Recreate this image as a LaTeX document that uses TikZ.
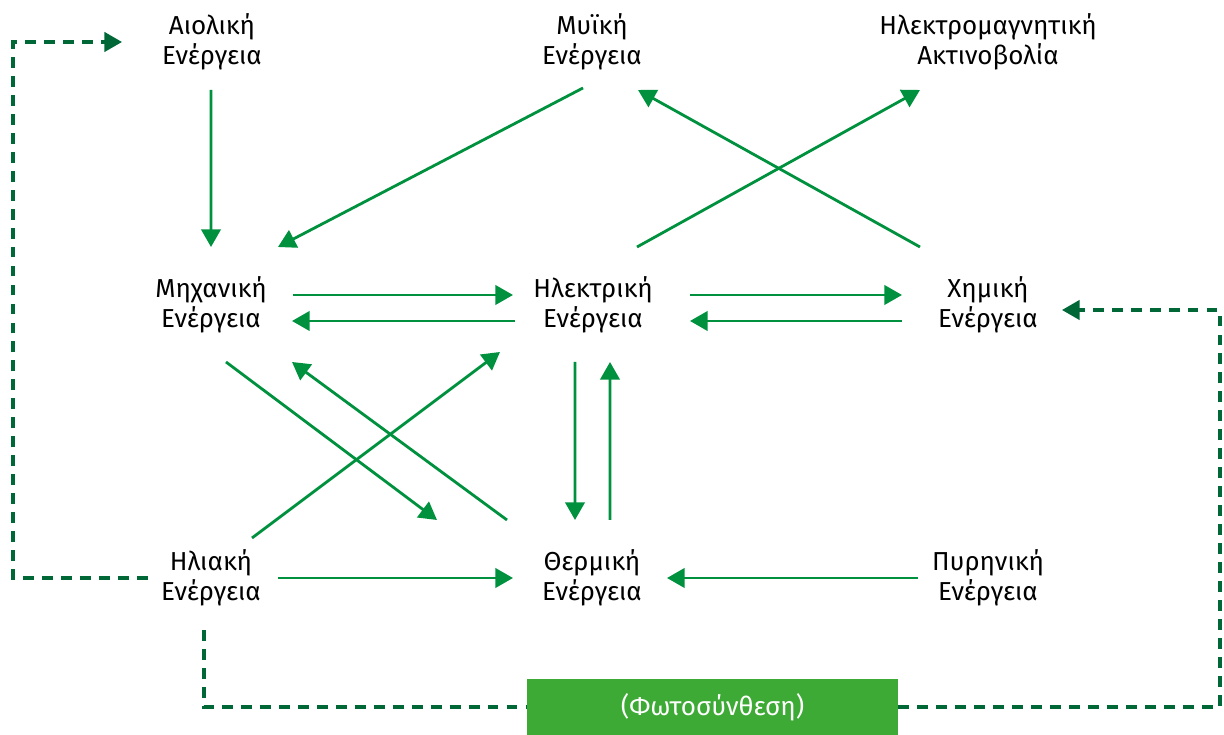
\documentclass[tikz,border=0pt]{standalone}
\usepackage{fontspec}
\setmainfont{Fira Sans}
\usetikzlibrary{arrows.meta}
\definecolor{flowgreen}{RGB}{0,145,62}
\definecolor{darkgreen}{RGB}{0,104,55}
\definecolor{boxgreen}{RGB}{61,170,53}

\begin{document}
\begin{tikzpicture}[every node/.style={font=\fontsize{14.8}{17}\selectfont}]
  \tikzset{
    energy/.style={align=center, inner sep=0pt},
    flow/.style={draw=flowgreen, line width=1.6pt, -{Triangle[length=10pt,width=11pt]}},
    dflow/.style={draw=darkgreen, line width=1.8pt, dash pattern=on 6.2pt off 4.6pt, -{Triangle[length=10pt,width=11pt]}}
  }
  \useasboundingbox (0,0) rectangle (24.48,14.7);

  % Top row
  \node[energy] (wind) at (4.24, 13.86) {Αιολική\\Ενέργεια};
  \node[energy] (musc) at (11.84, 13.86) {Μυϊκή\\Ενέργεια};
  \node[energy] (emr)  at (19.76, 13.86) {Ηλεκτρομαγνητική\\Ακτινοβολία};

  % Middle row
  \node[energy] (mech) at (4.22, 8.6) {Μηχανική\\Ενέργεια};
  \node[energy] (elec) at (11.86, 8.6) {Ηλεκτρική\\Ενέργεια};
  \node[energy] (chem) at (19.76, 8.6) {Χημική\\Ενέργεια};

  % Bottom row
  \node[energy] (sun)  at (4.22, 3.14) {Ηλιακή\\Ενέργεια};
  \node[energy] (heat) at (11.84, 3.14) {Θερμική\\Ενέργεια};
  \node[energy] (nucl) at (19.76, 3.14) {Πυρηνική\\Ενέργεια};

  \node[fill=boxgreen, text=white, minimum width=7.42cm, minimum height=1.12cm, inner sep=0pt]
    (photo) at (14.25, 0.56) {(Φωτοσύνθεση)};

  % Connections to the top row
  \draw[flow] ([shift={(-0.02,-0.96)}]wind.center) -- ([shift={(0,1.16)}]mech.center);
  \draw[flow] ([shift={(-0.18,-0.92)}]musc.center) -- ([shift={(1.34,1.16)}]mech.center);
  \draw[flow] ([shift={(-1.36,1.16)}]chem.center) -- ([shift={(0.92,-0.96)}]musc.center);
  \draw[flow] ([shift={(0.88,1.16)}]elec.center) -- ([shift={(-1.36,-0.96)}]emr.center);

  % Middle row, both ways
  \draw[flow] ([shift={(1.64,0.2)}]mech.center) -- ([shift={(-1.6,0.2)}]elec.center);
  \draw[flow] ([shift={(-1.56,-0.32)}]elec.center) -- ([shift={(1.62,-0.32)}]mech.center);
  \draw[flow] ([shift={(1.94,0.2)}]elec.center) -- ([shift={(-1.72,0.2)}]chem.center);
  \draw[flow] ([shift={(-1.72,-0.32)}]chem.center) -- ([shift={(1.94,-0.32)}]elec.center);

  % Between middle and bottom row
  \draw[flow] ([shift={(0.3,-1.14)}]mech.center) -- ([shift={(-3.1,1.16)}]heat.center);
  \draw[flow] ([shift={(-1.7,1.16)}]heat.center) -- ([shift={(1.62,-1.14)}]mech.center);
  \draw[flow] ([shift={(0.82,0.8)}]sun.center) -- ([shift={(-1.86,-0.94)}]elec.center);
  \draw[flow] ([shift={(-0.36,-1.14)}]elec.center) -- ([shift={(-0.34,1.16)}]heat.center);
  \draw[flow] ([shift={(0.36,1.16)}]heat.center) -- ([shift={(0.34,-1.14)}]elec.center);

  % Bottom row
  \draw[flow] ([shift={(1.34,0)}]sun.center) -- ([shift={(-1.58,0)}]heat.center);
  \draw[flow] ([shift={(-1.4,0)}]nucl.center) -- ([shift={(1.5,0)}]heat.center);

  % Dashed loops
  \coordinate (lc) at (0.26, 3.14);
  \coordinate (rc) at (24.4, 0.56);
  \draw[dflow] ([shift={(-1.26,0)}]sun.center) -- (lc) |- ([shift={(-1.8,0)}]wind.center);
  \draw[dflow, -] ([shift={(-0.14,-1.04)}]sun.center) |- (photo.west);
  \draw[dflow] (photo.east) -- (rc) |- ([shift={(1.48,-0.1)}]chem.center);
\end{tikzpicture}
\end{document}
